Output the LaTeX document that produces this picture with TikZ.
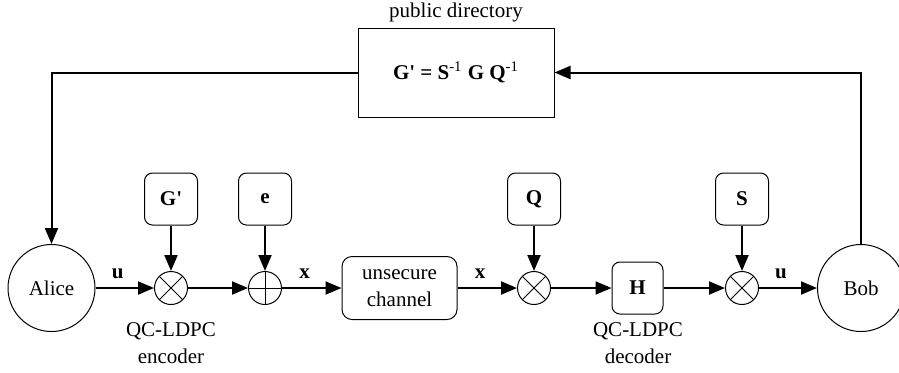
\documentclass[tikz,border=0pt]{standalone}
\usepackage{fontspec}
\setmainfont{Liberation Serif}[Ligatures=TeXOff]
\usetikzlibrary{arrows.meta}
\usetikzlibrary{positioning}

\begin{document}
\begin{tikzpicture}[
		x=0.5pt, y=-0.5pt,
		font=\fontsize{10.5}{13.5}\selectfont,
		party/.style={circle, draw, line width=0.5pt, minimum size=43.5pt, inner sep=0pt},
		mixer/.style={circle, draw, line width=0.5pt, minimum size=16.5pt, inner sep=0pt,
			path picture={\draw[line width=0.5pt] (path picture bounding box.north west) -- (path picture bounding box.south east)
				(path picture bounding box.north east) -- (path picture bounding box.south west);}},
		adder/.style={circle, draw, line width=0.5pt, minimum size=16.5pt, inner sep=0pt,
			path picture={\draw[line width=0.5pt] (path picture bounding box.north) -- (path picture bounding box.south)
				(path picture bounding box.west) -- (path picture bounding box.east);}},
		keybox/.style={draw, rounded corners=4pt, line width=0.5pt, minimum width=26.5pt, minimum height=26pt, font=\fontsize{10.5}{13.5}\selectfont\bfseries},
		block/.style={draw, rounded corners=5pt, line width=0.5pt, minimum width=57.5pt, minimum height=31.5pt, align=center},
		arrow/.style={-{Triangle[length=8pt,width=6.5pt]}, line width=1pt},
		lbl/.style={pos=0.38, above=1pt, font=\fontsize{10.5}{13.5}\selectfont\bfseries},
		caption/.style={align=center},
	]
	\useasboundingbox (0,0) rectangle (899,372);
	
	% public key store
	\node[draw, line width=0.5pt, minimum width=98pt, minimum height=44.5pt] (dir) at (456,72.5)
		{\textbf{G' = S}\textsuperscript{-1} \textbf{G Q}\textsuperscript{-1}};
	\node[above=-1pt of dir] (dirlabel) {public directory};
	
	% main chain
	\node[party] (alice) at (51.5,288) {Alice};
	\node[mixer] (mul1) at (171,288) {};
	\node[adder] (add) at (265,288) {};
	\node[block] (ch) at (399.5,288) {unsecure\\channel};
	\node[mixer] (mul2) at (534,288) {};
	\node[keybox, minimum width=25.5pt] (hbox) at (637.5,288) {H};
	\node[mixer] (mul3) at (742,288) {};
	\node[party] (bob) at (861,288) {Bob};
	
	% key inputs
	\node[keybox] (gbox) at (171,199) {G'};
	\node[keybox] (ebox) at (265,199) {e};
	\node[keybox] (qbox) at (534,199) {Q};
	\node[keybox] (sbox) at (742,199) {S};
	
	\node[caption] (enc) at (171,343) {QC-LDPC\\encoder};
	\node[caption] (dec) at (638,343) {QC-LDPC\\decoder};
	
	\draw[arrow] (alice) -- (mul1) node[lbl] {u};
	\draw[arrow] (mul1) -- (add);
	\draw[arrow] (add) -- (ch) node[lbl] {x};
	\draw[arrow] (ch) -- (mul2) node[lbl] {x};
	\draw[arrow] (mul2) -- (hbox);
	\draw[arrow] (hbox) -- (mul3);
	\draw[arrow] (mul3) -- (bob) node[lbl] {u};
	
	\draw[arrow] (gbox) -- (mul1);
	\draw[arrow] (ebox) -- (add);
	\draw[arrow] (qbox) -- (mul2);
	\draw[arrow] (sbox) -- (mul3);
	
	\draw[arrow] (bob) |- (dir);
	\draw[arrow] (dir) -| (alice);
\end{tikzpicture}
\end{document}
